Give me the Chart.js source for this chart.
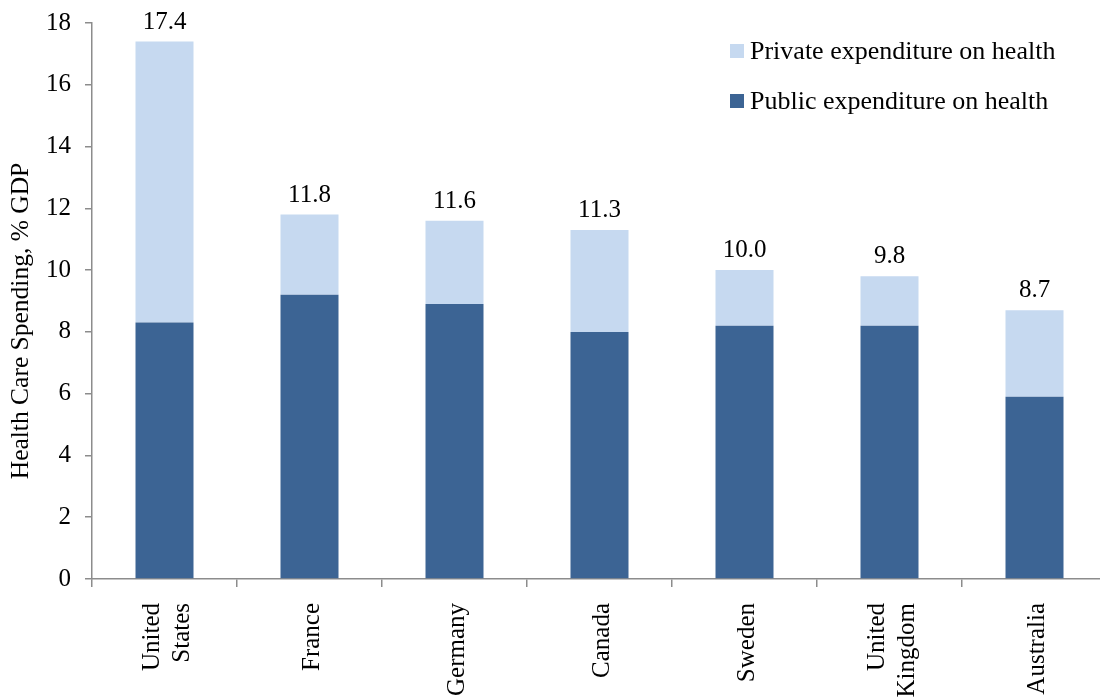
<html>
<head>
<title>Health Care Spending</title>
<script src="https://cdn.jsdelivr.net/npm/chart.js/dist/chart.umd.min.js"></script>
<style>
  html, body { margin: 0; padding: 0; overflow: hidden; background: #fff; }
  #wrap { width: 1107px; height: 700px; }
</style>
</head>
<body>
<div id="wrap"><canvas id="myChart"></canvas></div>
<script>
var countries = [["United", "States"], "France", "Germany", "Canada", "Sweden", ["United", "Kingdom"], "Australia"];
var publicSpend = [8.3, 9.2, 8.9, 8.0, 8.2, 8.2, 5.9];
var privateSpend = [9.1, 2.6, 2.7, 3.3, 1.8, 1.6, 2.8];
var yTicks = [0, 2, 4, 6, 8, 10, 12, 14, 16, 18];
var yTitle = 'Health Care Spending, % GDP';

var serif = "'Liberation Serif', 'Times New Roman', serif";

// totals written above each stacked bar
const totalLabels = {
    id: 'totalLabels',
    afterDatasetsDraw(chart) {
        const ctx = chart.ctx;
        const y = chart.scales.y;
        const meta = chart.getDatasetMeta(1);
        ctx.save();
        ctx.font = "25px " + serif;
        ctx.fillStyle = '#000';
        ctx.textAlign = 'center';
        ctx.textBaseline = 'alphabetic';
        meta.data.forEach((bar, i) => {
            var total = publicSpend[i] + privateSpend[i];
            ctx.fillText(total.toFixed(1), bar.x, y.getPixelForValue(total) - 13);
        });
        ctx.restore();
    }
};

// rotated category names, multi-line ones centred on the bar,
// plus the y axis title sitting a little below the middle
const axisText = {
    id: 'axisText',
    afterDraw(chart) {
        const ctx = chart.ctx;
        const x = chart.scales.x;
        const area = chart.chartArea;
        ctx.save();
        ctx.fillStyle = '#000';
        ctx.font = "25px " + serif;
        ctx.textAlign = 'right';
        ctx.textBaseline = 'middle';
        countries.forEach((name, i) => {
            var lines = [].concat(name);
            var cx = x.getPixelForTick(i) + 3;
            lines.forEach((line, j) => {
                ctx.save();
                ctx.translate(cx + (j - (lines.length - 1) / 2) * 30, area.bottom + 24);
                ctx.rotate(-Math.PI / 2);
                ctx.fillText(line, 0, 0);
                ctx.restore();
            });
        });
        ctx.font = "25.5px " + serif;
        ctx.textAlign = 'center';
        ctx.translate(21, (area.top + area.bottom) / 2 + 20);
        ctx.rotate(-Math.PI / 2);
        ctx.fillText(yTitle, 0, 0);
        ctx.restore();
    }
};

// legend box inside the plot, top right, private first
const insideLegend = {
    id: 'insideLegend',
    afterDraw(chart) {
        const ctx = chart.ctx;
        const sets = chart.data.datasets.slice().reverse();
        ctx.save();
        ctx.font = "26px " + serif;
        ctx.textBaseline = 'middle';
        ctx.textAlign = 'left';
        sets.forEach((ds, i) => {
            var cy = 51 + i * 50;
            ctx.fillStyle = ds.backgroundColor;
            ctx.fillRect(730, cy - 7, 14, 14);
            ctx.fillStyle = '#000';
            ctx.fillText(ds.label, 750, cy + 1);
        });
        ctx.restore();
    }
};

const ctx = document.getElementById('myChart').getContext('2d');
const myChart = new Chart(ctx, {
    type: 'bar',
    data: {
        labels: countries,
        datasets: [
            {
                label: 'Public expenditure on health',
                data: publicSpend,
                backgroundColor: '#3C6494',
                barPercentage: 0.4,
                categoryPercentage: 1.0,
            },
            {
                label: 'Private expenditure on health',
                data: privateSpend,
                backgroundColor: '#C6D9F0',
                barPercentage: 0.4,
                categoryPercentage: 1.0,
            },
        ],
    },
    options: {
        responsive: true,
        maintainAspectRatio: false,
        animation: false,
        layout: { padding: { top: 23, right: 0, left: 0, bottom: 0 } },
        plugins: {
            legend: { display: false },
            tooltip: { enabled: false },
        },
        scales: {
            x: {
                stacked: true,
                afterFit: s => { s.height = 121; s.paddingLeft = 0; s.paddingRight = 0; },
                border: { color: '#8c8c8c', width: 1.5 },
                grid: { offset: true, drawOnChartArea: false, drawTicks: true, tickLength: 8, color: '#8c8c8c', lineWidth: 1.5 },
                ticks: { display: false, autoSkip: false },
            },
            y: {
                stacked: true,
                min: 0,
                max: 18,
                afterFit: s => { s.width = 92; s.paddingTop = 0; s.paddingBottom = 0; },
                afterBuildTicks: s => { s.ticks = yTicks.map(v => ({ value: v })); },
                border: { color: '#8c8c8c', width: 1.5 },
                grid: { drawOnChartArea: false, drawTicks: true, tickLength: 7, color: '#8c8c8c', lineWidth: 1.5 },
                ticks: {
                    color: '#000',
                    font: { family: serif, size: 25 },
                    padding: 14,
                },
            },
        },
    },
    plugins: [totalLabels, axisText, insideLegend],
});
</script>
</body>
</html>
